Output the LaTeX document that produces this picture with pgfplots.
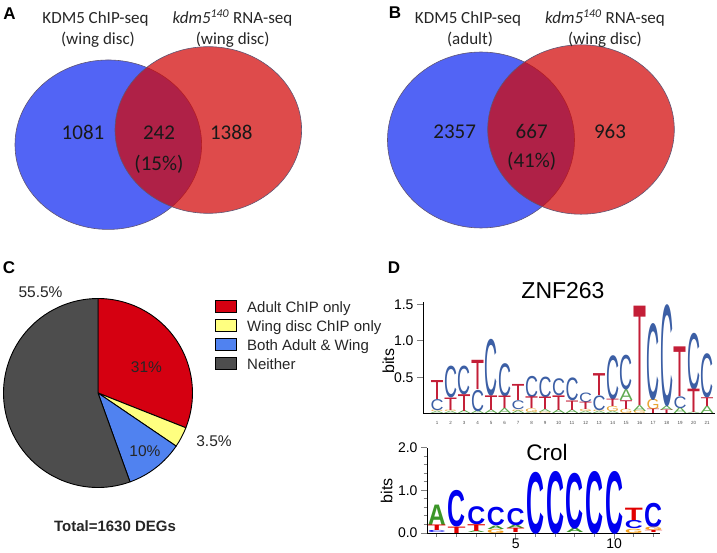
\documentclass[border=0pt]{standalone}
\usepackage{fontspec}
\setmainfont{Liberation Sans}
\newfontfamily\cali{Carlito}
\usepackage{graphicx}
\usepackage{pgfplots}
\pgfplotsset{compat=1.18}

\definecolor{vblue}{RGB}{82,100,245}
\definecolor{vred}{RGB}{210,9,9}
\definecolor{vedge}{RGB}{95,85,115}
\definecolor{pred}{RGB}{213,0,17}
\definecolor{pyel}{RGB}{255,255,128}
\definecolor{pblu}{RGB}{80,130,240}
\definecolor{pgry}{RGB}{77,77,77}
\definecolor{zA}{RGB}{95,170,80}
\definecolor{zC}{RGB}{60,95,165}
\definecolor{zG}{RGB}{232,165,50}
\definecolor{zT}{RGB}{195,30,55}
\definecolor{cA}{RGB}{60,150,40}
\definecolor{cC}{RGB}{0,0,240}
\definecolor{cG}{RGB}{245,160,30}
\definecolor{cT}{RGB}{225,0,0}

\newdimen\LH
\newdimen\ZU \ZU=73bp
\newdimen\CU \CU=42.5bp

% #1 font, #2 letter, #3 colour, #4 width, #5 unit, #6 table (x bottom height)
\newcommand{\logoplot}[6]{%
\addplot[scatter, only marks, mark=*, mark size=0pt, mark options={draw=none,fill=none},
 visualization depends on={value \thisrow{h}\as\hv},
 scatter/@pre marker code/.code={\global\LH=\hv#5\relax
   \node[anchor=base, inner sep=0pt, outer sep=0pt, text=#3] at (0pt,0pt) {\resizebox{#4}{\LH}{#1#2}};},
 scatter/@post marker code/.code={}]
 table[x=x,y=y,row sep=\\]{#6};}

% pie slice: colour, start angle, end angle
\newcommand{\pieslice}[3]{%
\addplot[scatter, only marks, mark=*, mark size=0pt, mark options={draw=none,fill=none},
 scatter/@pre marker code/.code={%
   \filldraw[fill=#1, draw=black, line width=0.9bp, line join=round] (0pt,0pt) -- (#2:94.5bp) arc[start angle=#2, end angle=#3, radius=94.5bp] -- cycle;},
 scatter/@post marker code/.code={}] coordinates {(98,160)};}

\newcommand{\fs}[1]{\fontsize{#1bp}{#1bp}\selectfont}

\begin{document}
\begin{tikzpicture}
% pie values (percent)
\def\pA{31}\def\pY{3.5}\def\pB{10}\def\pN{55.5}
\pgfmathsetmacro\aA{90}
\pgfmathsetmacro\aB{90-3.6*\pA}
\pgfmathsetmacro\aC{90-3.6*(\pA+\pY)}
\pgfmathsetmacro\aD{90-3.6*(\pA+\pY+\pB)}
\pgfmathsetmacro\aE{90-3.6*(\pA+\pY+\pB+\pN)}

\begin{axis}[at={(0bp,0bp)}, anchor=south west, x=1bp, y=1bp,
  xmin=0, xmax=717, ymin=0, ymax=553, hide axis, clip=false]
% ---------- Venn A ----------
\addplot[only marks, mark=*, mark size=93.3bp,
  mark options={yscale=0.908, fill=vblue, draw=vedge, line width=0.6bp}] coordinates {(108.3,408.3)};
\addplot[only marks, mark=*, mark size=93.3bp,
  mark options={yscale=0.893, fill=vred, fill opacity=0.735, draw=vedge, line width=0.6bp}] coordinates {(208.3,423)};
% ---------- Venn B ----------
\addplot[only marks, mark=*, mark size=93.5bp,
  mark options={yscale=0.941, fill=vblue, draw=vedge, line width=0.6bp}] coordinates {(481,413)};
\addplot[only marks, mark=*, mark size=93.3bp,
  mark options={yscale=0.908, fill=vred, fill opacity=0.735, draw=vedge, line width=0.6bp}] coordinates {(581,423.5)};
% ---------- Pie ----------
\pieslice{pred}{\aA}{\aB}
\pieslice{pyel}{\aB}{\aC}
\pieslice{pblu}{\aC}{\aD}
\pieslice{pgry}{\aD}{\aE}
\end{axis}

% ---------- text overlay ----------
\begin{axis}[at={(0bp,0bp)}, anchor=south west, x=1bp, y=1bp,
  xmin=0, xmax=717, ymin=0, ymax=553, hide axis, clip=false]
\addplot[draw=none] coordinates {(0,0)};
% panel letters
\node[font=\fs{17}\bfseries] at (axis cs:9.5,539.5) {A};
\node[font=\fs{17}\bfseries] at (axis cs:395,540.5) {B};
\node[font=\fs{17}\bfseries] at (axis cs:9,285.5) {C};
\node[font=\fs{17}\bfseries] at (axis cs:394,285.5) {D};

% Venn titles
\begin{scope}[every node/.style={font=\cali\fs{17}, anchor=base, inner sep=0pt, text=black!85}]
\node at (axis cs:95.5,529.7) {KDM5 ChIP-seq};
\node at (axis cs:98,508) {(wing disc)};
\node at (axis cs:232.5,529.7) {\textit{kdm5}\textsuperscript{\textit{140}} RNA-seq};
\node at (axis cs:232.7,508) {(wing disc)};
\node at (axis cs:468,529.7) {KDM5 ChIP-seq};
\node at (axis cs:470,508) {(adult)};
\node at (axis cs:605,529.7) {\textit{kdm5}\textsuperscript{\textit{140}} RNA-seq};
\node at (axis cs:605,508) {(wing disc)};
\end{scope}
% Venn numbers
\begin{scope}[every node/.style={font=\cali\fs{21}, anchor=base, inner sep=0pt, text=black!90}]
\node at (axis cs:83,413) {1081};
\node at (axis cs:159,413) {242};
\node at (axis cs:159,383) {(15\%)};
\node at (axis cs:231.3,413) {1388};
\node at (axis cs:454.7,414.3) {2357};
\node at (axis cs:531.7,414.3) {667};
\node at (axis cs:531.7,385.7) {(41\%)};
\node at (axis cs:610,414.3) {963};
\end{scope}
% Pie labels
\begin{scope}[every node/.style={font=\fs{15.5}, anchor=base, inner sep=0pt, text=black!85}]
\node at (axis cs:40.5,256) {55.5\%};
\node at (axis cs:146.5,181) {31\%};
\node at (axis cs:214,107) {3.5\%};
\node at (axis cs:145,97) {10\%};
\node[font=\fs{15}\bfseries] at (axis cs:115,22) {Total=1630 DEGs};
\end{scope}
% legend
\draw[fill=pred, line width=0.8bp] (axis cs:215,240.3) rectangle (axis cs:236,252.3);
\draw[fill=pyel, line width=0.8bp] (axis cs:215,221.4) rectangle (axis cs:236,233.4);
\draw[fill=pblu, line width=0.8bp] (axis cs:215,202.5) rectangle (axis cs:236,214.5);
\draw[fill=pgry, line width=0.8bp] (axis cs:215,183.6) rectangle (axis cs:236,195.6);
\begin{scope}[every node/.style={font=\fs{15}, anchor=base west, inner sep=0pt, text=black!85}]
\node at (axis cs:247,240.3) {Adult ChIP only};
\node at (axis cs:247,221.4) {Wing disc ChIP only};
\node at (axis cs:247,202.5) {Both Adult \& Wing};
\node at (axis cs:247,183.6) {Neither};
\end{scope}
% logo titles and labels
\node[font=\fs{23}, anchor=base, inner sep=0pt] at (axis cs:563,255) {ZNF263};
\node[font=\fs{22.5}, anchor=base, inner sep=0pt] at (axis cs:547,92.3) {Crol};
\node[font=\fs{16}, rotate=90, inner sep=0pt] at (axis cs:388.5,192) {bits};
\node[font=\fs{16}, rotate=90, inner sep=0pt] at (axis cs:386.7,62.3) {bits};
\end{axis}

% ---------- ZNF263 logo ----------
\begin{axis}[at={(423bp,139bp)}, anchor=south west, x=13.5bp, y=73bp,
  xmin=-0.04, xmax=21.6, ymin=0, ymax=1.53, clip=false,
  axis x line*=bottom, axis y line*=left, axis line style={-, line width=1bp},
  tick align=outside, major tick length=6bp,
  ytick={0.5,1,1.5}, yticklabels={0.5,1.0,1.5},
  xtick={1,...,21},
  xtick style={draw=none},
  ytick style={line width=1bp},
  /pgf/number format/assume math mode=true,
  yticklabel style={font=\fs{14}},
  xticklabel style={font=\fs{4.5}, text=black!70, yshift=2bp},
]
\logoplot{}{A}{zA}{13bp}{\ZU}{x y h\\ 1 0 .03\\ 2 0 .03\\ 3 0 .04\\ 4 0 .04\\ 5 0 .05\\ 6 0 .07\\ 7 0 .04\\ 8 0 .02\\ 9 .02 .04\\ 10 0 .05\\ 11 0 .05\\ 12 0 .03\\ 13 0 .03\\ 14 0 .03\\ 15 .18 .15\\ 16 .04 .08\\ 18 .05 .06\\ 19 0 .08\\ 20 0 .02\\ 21 0 .10\\}
\logoplot{}{G}{zG}{13bp}{\ZU}{x y h\\ 1 .03 .02\\ 2 .03 .02\\ 7 .04 .02\\ 8 .02 .05\\ 9 0 .02\\ 12 .03 .03\\ 13 .03 .02\\ 14 .03 .07\\ 15 0 .06\\ 16 0 .04\\ 17 .06 .14\\}
\logoplot{}{C}{zC}{13bp}{\ZU}{x y h\\ 1 .05 .15\\ 2 .22 .43\\ 3 .27 .39\\ 4 .04 .29\\ 5 .25 .77\\ 6 .24 .45\\ 7 .06 .12\\ 8 .23 .29\\ 9 .23 .28\\ 10 .25 .23\\ 11 .18 .31\\ 12 .16 .13\\ 13 .05 .20\\ 14 .20 .60\\ 15 .33 .47\\ 17 .20 1.04\\ 18 .11 1.38\\ 19 .08 .16\\ 20 .34 .77\\ 21 .22 .60\\}
\logoplot{}{T}{zT}{13bp}{\ZU}{x y h\\ 1 .20 .26\\ 2 .05 .17\\ 3 .04 .23\\ 4 .33 .40\\ 5 .05 .20\\ 6 .07 .17\\ 7 .18 .22\\ 8 .07 .16\\ 9 .06 .17\\ 10 .05 .20\\ 11 .05 .13\\ 12 .06 .10\\ 13 .25 .30\\ 14 .10 .10\\ 15 .06 .12\\ 16 .12 1.36\\ 17 0 .06\\ 18 0 .05\\ 19 .24 .68\\ 20 .02 .32\\ 21 .10 .12\\}
\end{axis}

% ---------- Crol logo ----------
\begin{axis}[at={(427bp,20bp)}, anchor=south west, x=19.7bp, y=42.5bp,
  xmin=0.5, xmax=12.33, ymin=0, ymax=2, clip=false,
  axis x line*=bottom, axis y line*=left, axis line style={-, line width=1bp},
  tick align=outside, major tick length=6bp, minor tick length=3.5bp,
  ytick={0,1,2}, yticklabels={0.0,1.0,2.0}, minor y tick num=4,
  xtick={5,10}, xticklabels={5,10}, minor xtick={1,...,12},
  tick style={line width=1bp},
  /pgf/number format/assume math mode=true,
  ticklabel style={font=\fs{14}},
  xticklabel style={yshift=4bp},
]
\logoplot{\bfseries}{A}{cA}{18bp}{\CU}{x y h\\ 1 .18 .48\\ 3 0 .04\\ 4 .09 .08\\ 5 .10 .08\\ 8 0 .10\\}
\logoplot{\bfseries}{C}{cC}{18bp}{\CU}{x y h\\ 1 0 .05\\ 2 .15 .85\\ 3 .20 .42\\ 4 .17 .43\\ 5 .18 .40\\ 6 0 1.44\\ 7 0 1.46\\ 8 .10 1.30\\ 9 0 1.46\\ 10 0 1.46\\ 11 .10 .19\\ 12 .13 .57\\}
\logoplot{\bfseries}{G}{cG}{18bp}{\CU}{x y h\\ 4 0 .09\\ 11 0 .10\\ 12 .05 .08\\}
\logoplot{\bfseries}{T}{cT}{18bp}{\CU}{x y h\\ 1 .05 .13\\ 2 0 .15\\ 3 .04 .16\\ 5 0 .10\\ 11 .29 .29\\ 12 0 .05\\}
\end{axis}

\pgfresetboundingbox
\path (0bp,0bp) rectangle (717bp,553bp);
\end{tikzpicture}
\end{document}
